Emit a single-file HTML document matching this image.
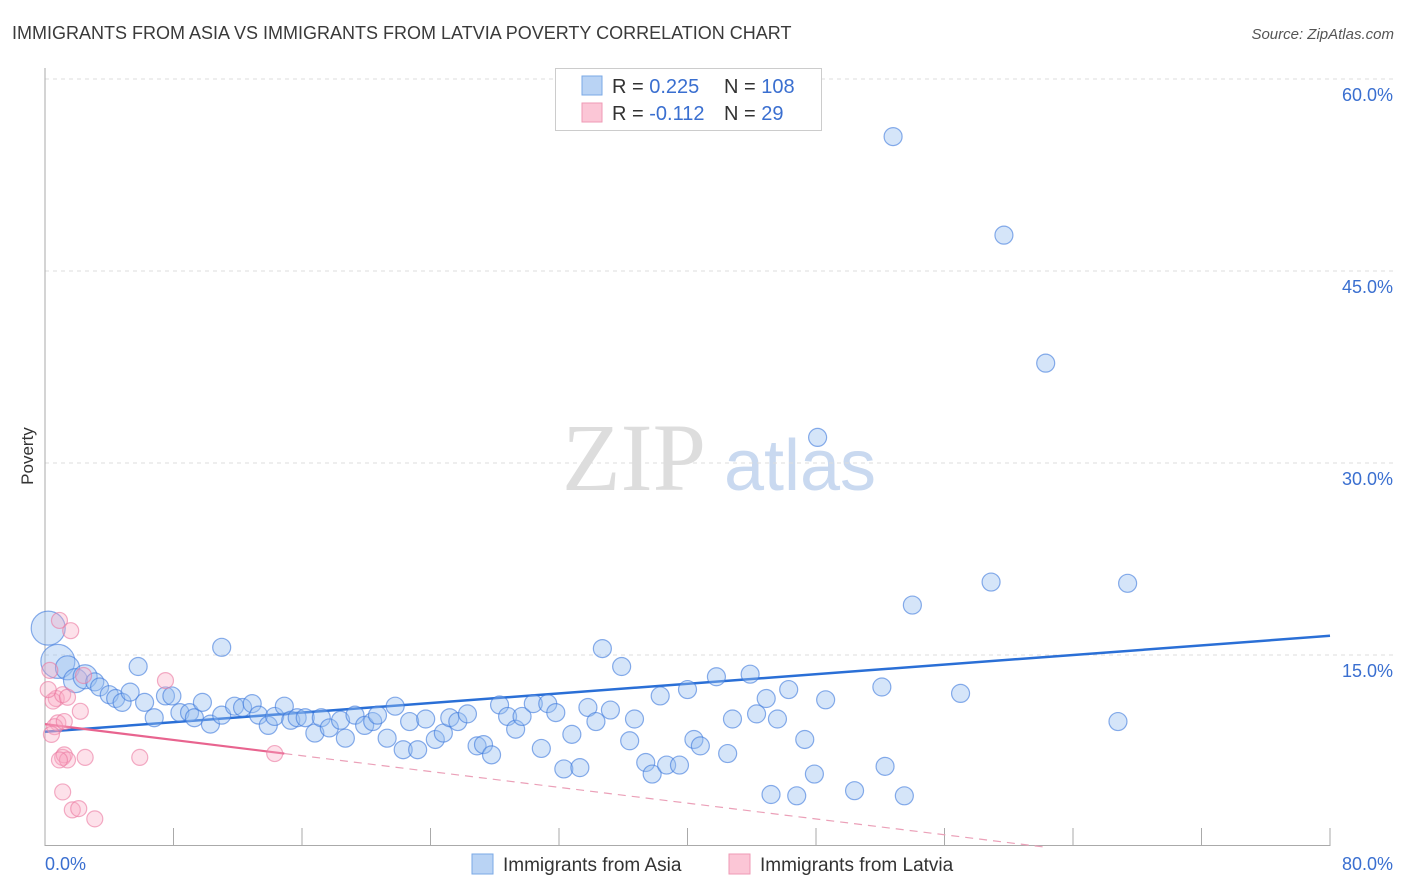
<!DOCTYPE html>
<html><head><meta charset="utf-8"><style>
body{margin:0;background:#fff;font-family:"Liberation Sans",sans-serif;}
svg{display:block}
</style></head><body>
<svg id="chart" width="1406" height="892">
<text x="12" y="39" font-size="18" fill="#3a3a3a">IMMIGRANTS FROM ASIA VS IMMIGRANTS FROM LATVIA POVERTY CORRELATION CHART</text>
<text x="1394" y="39" font-size="15" fill="#555" font-style="italic" text-anchor="end">Source: ZipAtlas.com</text>
<text x="33" y="456" font-size="17" fill="#333" transform="rotate(-90 33 456)" text-anchor="middle">Poverty</text>
<g>
<text x="634" y="490" font-size="96" font-family="Liberation Serif, serif" fill="#ddd" text-anchor="middle">ZIP</text>
<text x="800" y="490" font-size="72" fill="#c9d9f0" text-anchor="middle">atlas</text>
</g>
<g id="grid"></g><g id="axes"></g><g id="trend"></g><g id="pts"></g>
<g>
<rect x="555.5" y="68.5" width="266" height="62" fill="#fff" stroke="#ccc"/>
<rect x="582" y="76" width="20" height="19" fill="#b9d3f4" stroke="#7aa8e6"/>
<rect x="582" y="103" width="20" height="19" fill="#fbc6d6" stroke="#ef9ab5"/>
<text x="612" y="93" font-size="20" fill="#333">R = <tspan fill="#3a6fd0">0.225</tspan></text>
<text x="724" y="93" font-size="20" fill="#333">N = <tspan fill="#3a6fd0">108</tspan></text>
<text x="612" y="120" font-size="20" fill="#333">R = <tspan fill="#3a6fd0">-0.112</tspan></text>
<text x="724" y="120" font-size="20" fill="#333">N = <tspan fill="#3a6fd0">  29</tspan></text>
</g>
<g>
<rect x="472" y="854" width="21" height="20" fill="#b9d3f4" stroke="#7aa8e6"/>
<text x="503" y="871" font-size="19" fill="#333">Immigrants from Asia</text>
<rect x="729" y="854" width="21" height="20" fill="#fbc6d6" stroke="#ef9ab5"/>
<text x="760" y="871" font-size="19" fill="#333">Immigrants from Latvia</text>
</g>
</svg>
<script>
const yTicks=[15,30,45,60];
const yTickLabels=["15.0%","30.0%","45.0%","60.0%"];
const xTickLabels=["0.0%","80.0%"];
const asiaX=[0.2,0.8,1.4,1.9,2.5,3.1,3.4,4.0,4.4,4.8,5.3,5.8,6.2,6.8,7.5,7.9,8.4,9.0,9.3,9.8,10.3,11.0,11.8,12.3,12.9,13.3,13.9,14.3,14.9,15.3,15.7,16.2,16.8,17.2,17.7,18.4,18.7,19.3,19.9,20.4,20.7,21.3,21.8,22.3,22.7,23.2,23.7,24.3,24.8,25.2,25.7,26.3,26.9,27.3,27.8,28.3,28.8,29.3,29.7,30.4,30.9,31.3,31.8,32.3,32.8,33.3,33.8,34.3,34.7,35.2,35.9,36.4,36.7,37.4,37.8,38.3,38.7,39.5,40.0,40.4,40.8,41.8,42.5,42.8,43.9,44.3,44.9,45.2,45.6,46.3,46.8,47.3,47.9,48.1,48.6,50.4,52.1,52.3,52.8,53.5,54.0,57.0,58.9,59.7,62.3,66.8,67.4,11.0];
const asiaY=[17.1,14.5,14.0,13.0,13.3,12.9,12.5,11.9,11.6,11.3,12.1,14.1,11.3,10.1,11.8,11.8,10.5,10.5,10.1,11.3,9.6,10.3,11.0,10.9,11.2,10.3,9.5,10.2,11.0,9.9,10.1,10.1,8.9,10.1,9.3,9.9,8.5,10.3,9.5,9.8,10.3,8.5,11.0,7.6,9.8,7.6,10.0,8.4,8.9,10.1,9.8,10.4,7.9,8.0,7.2,11.1,10.2,9.2,10.2,11.2,7.7,11.2,10.5,6.1,8.8,6.2,10.9,9.8,15.5,10.7,14.1,8.3,10.0,6.6,5.7,11.8,6.4,6.4,12.3,8.4,7.9,13.3,7.3,10.0,13.5,10.4,11.6,4.1,10.0,12.3,4.0,8.4,5.7,32.0,11.5,4.4,12.5,6.3,55.5,4.0,18.9,12.0,20.7,47.8,37.8,9.8,20.6,15.6];
const latviaX=[0.9,1.6,0.3,0.7,0.5,1.1,2.4,2.2,7.5,0.8,0.6,1.2,1.1,1.2,1.4,2.5,5.9,14.3,1.1,1.7,2.1,3.1,0.2,0.4,0.9,1.4];
const latviaY=[17.7,16.9,13.8,11.6,11.4,11.9,13.4,10.6,13.0,9.7,9.4,9.8,7.0,7.2,6.8,7.0,7.0,7.3,4.3,2.9,3.0,2.2,12.3,8.8,6.8,11.7];
const asiaTrend=[9.0,16.5];
const latviaTrend=[9.6,7.3,14.9];
const NS="http://www.w3.org/2000/svg";
const X0=45,X1=1330,Y0=847,PXY=12.8;
const sx=v=>X0+v*(X1-X0)/80, sy=v=>Y0-v*PXY;
function mk(tag,attrs,parent){const e=document.createElementNS(NS,tag);for(const k in attrs)e.setAttribute(k,attrs[k]);document.getElementById(parent).appendChild(e);return e;}
yTicks.forEach((t,i)=>{
 const l=mk('line',{x1:X0,x2:1394,y1:sy(t),y2:sy(t),stroke:'#ddd','stroke-dasharray':'4,4'},'grid');
 
 
 const tx=mk('text',{x:1393,y:sy(t)+22,'font-size':18,fill:'#3a6fd0','text-anchor':'end'},'grid');
 tx.textContent=yTickLabels[i];
 
 
});
const ax=mk('line',{x1:X0,x2:X0,y1:68,y2:846,stroke:'#aaa'},'axes');


const bx=mk('line',{x1:X0,x2:X1,y1:845.5,y2:845.5,stroke:'#aaa'},'axes');


for(let i=1;i<=10;i++){
 const t=mk('line',{x1:sx(i*8),x2:sx(i*8),y1:828,y2:846,stroke:'#aaa'},'axes');
 
 
}
[[0,'start',45],[80,'end',1393]].forEach((d,i)=>{
 const t=mk('text',{x:d[2],y:870,'font-size':18,fill:'#3a6fd0','text-anchor':d[1]},'axes');
 t.textContent=xTickLabels[i];
 
 
});
asiaX.forEach((x,i)=>{
 const r=i<2?17:(i<5?12:9);
 const c=mk('circle',{cx:sx(x),cy:sy(asiaY[i]),r:r,fill:'rgba(150,190,240,0.4)',stroke:'rgba(60,120,220,0.6)','stroke-width':1.2},'pts');
 
 
});
latviaX.forEach((x,i)=>{
 const c=mk('circle',{cx:sx(x),cy:sy(latviaY[i]),r:8,fill:'rgba(248,170,195,0.35)',stroke:'rgba(235,120,160,0.6)','stroke-width':1.2},'pts');
 
 
});
const bt=mk('line',{x1:sx(0),y1:sy(asiaTrend[0]),x2:sx(80),y2:sy(asiaTrend[1]),stroke:'#2a6fd6','stroke-width':2.5},'trend');


const slope=(latviaTrend[1]-latviaTrend[0])/latviaTrend[2];
const xEnd=-latviaTrend[0]/slope;
const pt=mk('line',{x1:sx(0),y1:sy(latviaTrend[0]),x2:sx(latviaTrend[2]),y2:sy(latviaTrend[1]),stroke:'#e8648f','stroke-width':2.2},'trend');


const pd=mk('line',{x1:sx(latviaTrend[2]),y1:sy(latviaTrend[1]),x2:sx(xEnd),y2:sy(0),stroke:'#eba0b8','stroke-width':1.2,'stroke-dasharray':'8,6'},'trend');


</script>
</body></html>
